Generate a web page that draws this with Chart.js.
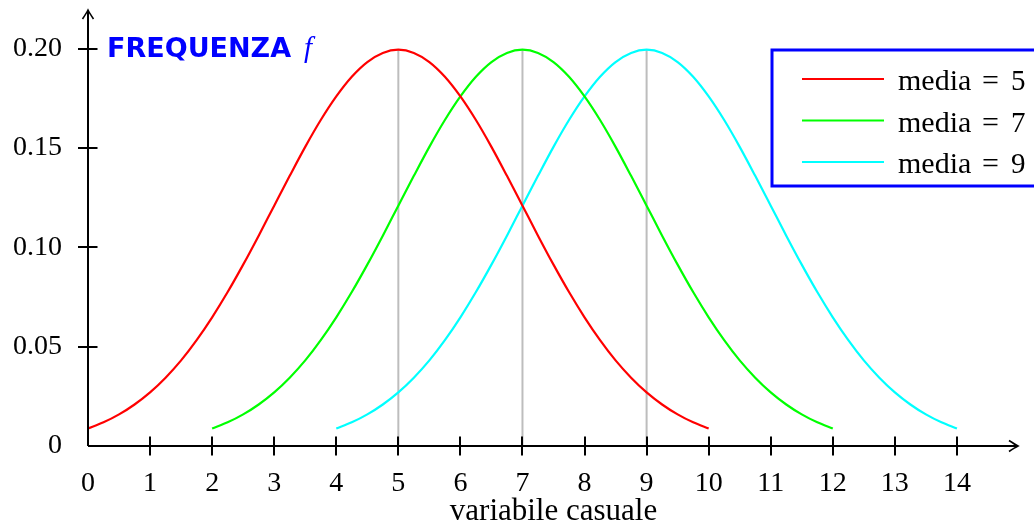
<!DOCTYPE html>
<html>
<head>
<meta charset="utf-8">
<script src="https://cdn.jsdelivr.net/npm/chart.js@4.4.1/dist/chart.umd.min.js"></script>
<style>
  html, body { margin: 0; padding: 0; background: #ffffff; }
  #wrap { width: 1034px; height: 530px; }
</style>
</head>
<body>
<div id="wrap"><canvas id="c" width="1034" height="530"></canvas></div>
<script>
// Three normal curves (same spread), centred on 5, 7 and 9
const seriesNames = ['media', 'media', 'media'];
const seriesMeans = ['5', '7', '9'];
const seriesColors = ['#ff0000', '#00ff00', '#00ffff'];
const means = [5, 7, 9];
const peak = 0.1995;

const xMedia5 = [0, 0.25, 0.5, 0.75, 1, 1.25, 1.5, 1.75, 2, 2.25, 2.5, 2.75, 3, 3.25, 3.5, 3.75, 4, 4.25, 4.5, 4.75,
                 5, 5.25, 5.5, 5.75, 6, 6.25, 6.5, 6.75, 7, 7.25, 7.5, 7.75, 8, 8.25, 8.5, 8.75, 9, 9.25, 9.5, 9.75, 10];
const yMedia5 = [0.0088, 0.0119, 0.0159, 0.0209, 0.0270, 0.0344, 0.0431, 0.0533, 0.0648, 0.0775, 0.0913,
                 0.1059, 0.1210, 0.1360, 0.1506, 0.1641, 0.1760, 0.1859, 0.1933, 0.1979, 0.1995,
                 0.1979, 0.1933, 0.1859, 0.1760, 0.1641, 0.1506, 0.1360, 0.1210, 0.1059, 0.0913,
                 0.0775, 0.0648, 0.0533, 0.0431, 0.0344, 0.0270, 0.0209, 0.0159, 0.0119, 0.0088];

const xMedia7 = [2, 2.25, 2.5, 2.75, 3, 3.25, 3.5, 3.75, 4, 4.25, 4.5, 4.75, 5, 5.25, 5.5, 5.75, 6, 6.25, 6.5, 6.75,
                 7, 7.25, 7.5, 7.75, 8, 8.25, 8.5, 8.75, 9, 9.25, 9.5, 9.75, 10, 10.25, 10.5, 10.75, 11, 11.25, 11.5, 11.75, 12];
const yMedia7 = [0.0088, 0.0119, 0.0159, 0.0209, 0.0270, 0.0344, 0.0431, 0.0533, 0.0648, 0.0775, 0.0913,
                 0.1059, 0.1210, 0.1360, 0.1506, 0.1641, 0.1760, 0.1859, 0.1933, 0.1979, 0.1995,
                 0.1979, 0.1933, 0.1859, 0.1760, 0.1641, 0.1506, 0.1360, 0.1210, 0.1059, 0.0913,
                 0.0775, 0.0648, 0.0533, 0.0431, 0.0344, 0.0270, 0.0209, 0.0159, 0.0119, 0.0088];

const xMedia9 = [4, 4.25, 4.5, 4.75, 5, 5.25, 5.5, 5.75, 6, 6.25, 6.5, 6.75, 7, 7.25, 7.5, 7.75, 8, 8.25, 8.5, 8.75,
                 9, 9.25, 9.5, 9.75, 10, 10.25, 10.5, 10.75, 11, 11.25, 11.5, 11.75, 12, 12.25, 12.5, 12.75, 13, 13.25, 13.5, 13.75, 14];
const yMedia9 = [0.0088, 0.0119, 0.0159, 0.0209, 0.0270, 0.0344, 0.0431, 0.0533, 0.0648, 0.0775, 0.0913,
                 0.1059, 0.1210, 0.1360, 0.1506, 0.1641, 0.1760, 0.1859, 0.1933, 0.1979, 0.1995,
                 0.1979, 0.1933, 0.1859, 0.1760, 0.1641, 0.1506, 0.1360, 0.1210, 0.1059, 0.0913,
                 0.0775, 0.0648, 0.0533, 0.0431, 0.0344, 0.0270, 0.0209, 0.0159, 0.0119, 0.0088];

const xTickValues = [0, 1, 2, 3, 4, 5, 6, 7, 8, 9, 10, 11, 12, 13, 14];
const yTickValues = [0, 0.05, 0.10, 0.15, 0.20];
const yTickLabels = ['0', '0.05', '0.10', '0.15', '0.20'];

const xTitle = 'variabile casuale';
const yTitle = 'FREQUENZA';
const yTitleSymbol = 'f';

const SERIF = '"Liberation Serif", "DejaVu Serif", serif';
const SANS = '"DejaVu Sans", "Liberation Sans", sans-serif';

function pts(xs, ys) { return xs.map((x, i) => ({ x: x, y: ys[i] })); }

const curveSets = [[xMedia5, yMedia5], [xMedia7, yMedia7], [xMedia9, yMedia9]].map((p, i) => ({
  label: seriesNames[i] + ' = ' + seriesMeans[i],
  data: pts(p[0], p[1]),
  borderColor: seriesColors[i],
  borderWidth: 2.2,
  pointRadius: 0,
  showLine: true,
  cubicInterpolationMode: 'monotone',
  order: 0
}));

// grey markers from the axis up to each peak
const peakSets = means.map(m => ({
  label: '',
  data: [{ x: m, y: 0 }, { x: m, y: peak }],
  borderColor: '#bdbdbd',
  borderWidth: 2,
  pointRadius: 0,
  showLine: true,
  order: 1
}));

function arrowHead(ctx, tx, ty, dir) {
  // LaTeX-style arrow tip, dir: 'right' or 'up'
  ctx.save();
  ctx.translate(tx, ty);
  if (dir === 'up') ctx.rotate(-Math.PI / 2);
  ctx.beginPath();
  ctx.moveTo(-9, -5.5);
  ctx.quadraticCurveTo(-3, -1.5, 0, 0);
  ctx.quadraticCurveTo(-3, 1.5, -9, 5.5);
  ctx.lineWidth = 1.6;
  ctx.strokeStyle = '#000';
  ctx.stroke();
  ctx.restore();
}

const decorations = {
  id: 'decorations',
  afterDatasetsDraw(chart) {
    const { ctx, scales: { x, y } } = chart;
    const x0 = x.getPixelForValue(0);
    const y0 = y.getPixelForValue(0);
    const xEnd = x.getPixelForValue(15) - 1;
    const yEnd = y.getPixelForValue(0.22) + 1;
    ctx.save();
    ctx.strokeStyle = '#000';
    ctx.lineWidth = 2;
    ctx.beginPath();
    ctx.moveTo(x0, y0); ctx.lineTo(xEnd - 1, y0);
    ctx.moveTo(x0, y0); ctx.lineTo(x0, yEnd + 1);
    xTickValues.forEach(v => {
      if (v === 0) return;
      const px = Math.round(x.getPixelForValue(v));
      ctx.moveTo(px, y0 - 9.5); ctx.lineTo(px, y0 + 9.5);
    });
    yTickValues.forEach(v => {
      if (v === 0) return;
      const py = Math.round(y.getPixelForValue(v));
      ctx.moveTo(x0 - 10, py); ctx.lineTo(x0 + 9.5, py);
    });
    ctx.stroke();
    arrowHead(ctx, xEnd, y0, 'right');
    arrowHead(ctx, x0, yEnd, 'up');
    ctx.restore();
  },
  afterDraw(chart) {
    const { ctx, scales: { y } } = chart;
    ctx.save();
    // caption at the top of the vertical axis
    const capY = y.getPixelForValue(0.20) + 8;
    ctx.fillStyle = '#0000ff';
    ctx.textBaseline = 'alphabetic';
    ctx.textAlign = 'left';
    ctx.font = 'bold 27px ' + SANS;
    ctx.fillText(yTitle, 107, capY);
    const w = ctx.measureText(yTitle).width;
    ctx.font = 'italic 29px ' + SERIF;
    ctx.fillText(yTitleSymbol, 107 + w + 13, capY);

    // legend box
    ctx.strokeStyle = '#0000ff';
    ctx.lineWidth = 3;
    ctx.strokeRect(772, 50, 300, 136);
    ctx.fillStyle = '#000';
    seriesNames.forEach((name, i) => {
      const ly = 79 + i * 41.5;
      ctx.strokeStyle = seriesColors[i];
      ctx.lineWidth = 2.2;
      ctx.beginPath();
      ctx.moveTo(802, ly); ctx.lineTo(884, ly);
      ctx.stroke();
      ctx.font = '30px ' + SERIF;
      ctx.fillText(name, 898, ly + 11);
      ctx.font = '30px ' + SERIF;
      ctx.fillText('=', 982, ly + 11);
      ctx.font = '29px ' + SERIF;
      ctx.fillText(seriesMeans[i], 1011, ly + 11);
    });
    ctx.restore();
  }
};

new Chart(document.getElementById('c'), {
  type: 'scatter',
  data: { datasets: [...curveSets, ...peakSets] },
  options: {
    responsive: false,
    animation: false,
    devicePixelRatio: 1,
    layout: { padding: { left: 0, right: 15, top: 9, bottom: 0 } },
    plugins: { legend: { display: false }, tooltip: { enabled: false } },
    scales: {
      x: {
        type: 'linear', min: 0, max: 15, position: 'bottom',
        grid: { display: false, drawTicks: false },
        border: { display: false },
        afterBuildTicks: s => { s.ticks = xTickValues.map(v => ({ value: v })); },
        afterFit: s => { s.height = 84; s.paddingLeft = 0; s.paddingRight = 0; },
        ticks: {
          autoSkip: false, maxRotation: 0, padding: 21, color: '#000',
          font: { family: SERIF, size: 28 },
          callback: v => String(v)
        },
        title: {
          display: true, text: xTitle, color: '#000', padding: 0,
          font: { family: SERIF, size: 31 }
        }
      },
      y: {
        type: 'linear', min: 0, max: 0.22,
        grid: { display: false, drawTicks: false },
        border: { display: false },
        afterBuildTicks: s => { s.ticks = yTickValues.map(v => ({ value: v })); },
        afterFit: s => { s.width = 88; s.paddingTop = 0; s.paddingBottom = 0; },
        ticks: {
          padding: 26, color: '#000',
          font: { family: SERIF, size: 28 },
          callback: (v, i) => yTickLabels[i]
        }
      }
    }
  },
  plugins: [decorations]
});
</script>
</body>
</html>
